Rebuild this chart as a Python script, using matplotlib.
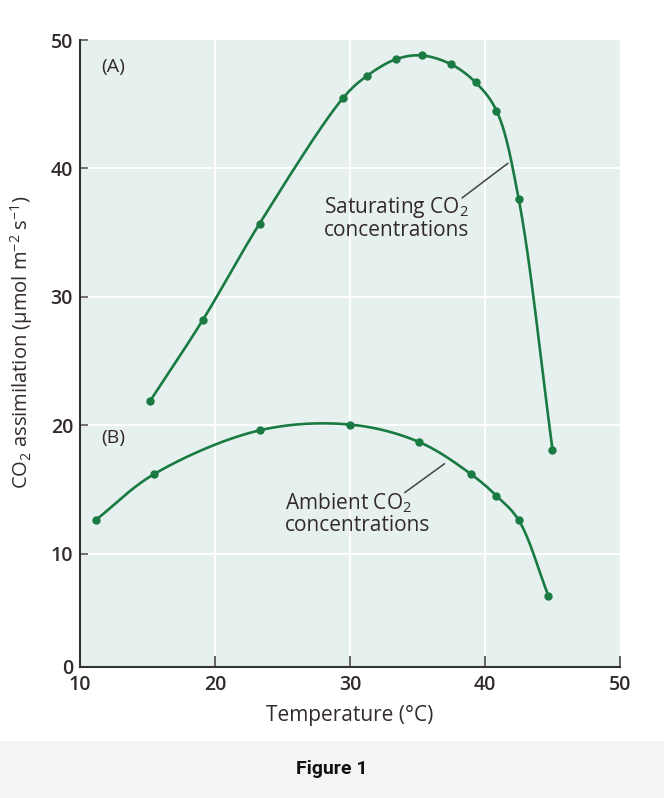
import numpy as np
import matplotlib
matplotlib.use("Agg")
import matplotlib.pyplot as plt
from matplotlib.patches import Rectangle

# ---- data ----
temp_sat = [15.2, 19.1, 23.3, 29.5, 31.25, 33.4, 35.3, 37.5, 39.3, 40.85, 42.5, 45.0]
co2_sat = [21.9, 28.2, 35.7, 45.5, 47.2, 48.5, 48.8, 48.1, 46.7, 44.5, 37.6, 18.1]

temp_amb = [11.15, 15.5, 23.3, 30.0, 35.1, 38.95, 40.85, 42.5, 44.7]
co2_amb = [12.6, 16.2, 19.6, 20.05, 18.7, 16.2, 14.5, 12.6, 6.7]

x_ticks = [10, 20, 30, 40, 50]
y_ticks = [10, 20, 30, 40, 50]
y_bottom = 1.17

plt.rcParams['font.family'] = ['Open Sans', 'DejaVu Sans']
plt.rcParams['mathtext.default'] = 'regular'

GREEN = '#197a42'
TXT = '#332b2b'

fig = plt.figure(figsize=(6.64, 7.98), dpi=100)
fig.patch.set_facecolor('white')
fig.patches.append(Rectangle((0, 0), 1, 57 / 798, transform=fig.transFigure,
                             facecolor='#f4f4f4', edgecolor='none', zorder=0))
fig.text(0.5, 1 - 769 / 798, 'Figure 1', ha='center', va='center',
         fontsize=14, fontweight='bold', family=['Roboto', 'DejaVu Sans'], color='#111111')

left, right = 80 / 664, 620 / 664
top, bottom = 1 - 40 / 798, 1 - 667 / 798
ax = fig.add_axes([left, bottom, right - left, top - bottom])
ax.set_facecolor('#e6f0ef')
ax.set_xlim(10, 50)
ax.set_ylim(y_bottom, 50)

for x in x_ticks[1:-1]:
    ax.axvline(x, color='white', lw=1.4, zorder=1)
for y in y_ticks[:-1]:
    ax.axhline(y, color='white', lw=1.4, zorder=1)


def smooth(xs, ys, n=40):
    # centripetal Catmull-Rom through the data points (for drawing only)
    sx, sy = 13.5, 12.83
    P = np.column_stack([np.asarray(xs) * sx, np.asarray(ys) * sy])
    P = np.vstack([2 * P[0] - P[1], P, 2 * P[-1] - P[-2]])
    out = []
    for i in range(1, len(P) - 2):
        p0, p1, p2, p3 = P[i - 1], P[i], P[i + 1], P[i + 2]
        t0 = 0.0
        t1 = t0 + np.linalg.norm(p1 - p0) ** 0.5
        t2 = t1 + np.linalg.norm(p2 - p1) ** 0.5
        t3 = t2 + np.linalg.norm(p3 - p2) ** 0.5
        t = np.linspace(t1, t2, n)[:, None]
        a1 = (t1 - t) / (t1 - t0) * p0 + (t - t0) / (t1 - t0) * p1
        a2 = (t2 - t) / (t2 - t1) * p1 + (t - t1) / (t2 - t1) * p2
        a3 = (t3 - t) / (t3 - t2) * p2 + (t - t2) / (t3 - t2) * p3
        b1 = (t2 - t) / (t2 - t0) * a1 + (t - t0) / (t2 - t0) * a2
        b2 = (t3 - t) / (t3 - t1) * a2 + (t - t1) / (t3 - t1) * a3
        c = (t2 - t) / (t2 - t1) * b1 + (t - t1) / (t2 - t1) * b2
        out.append(c)
    C = np.vstack(out)
    return C[:, 0] / sx, C[:, 1] / sy


for xs, ys in [(temp_sat, co2_sat), (temp_amb, co2_amb)]:
    cx, cy = smooth(xs, ys)
    ax.plot(cx, cy, color=GREEN, lw=1.9, zorder=3, solid_capstyle='round')
    ax.plot(xs, ys, 'o', color=GREEN, ms=5, zorder=4)

# spines / ticks
for s in ['top', 'right']:
    ax.spines[s].set_visible(False)
for s in ['left', 'bottom']:
    ax.spines[s].set_color('#333333')
    ax.spines[s].set_linewidth(1.5)

ax.set_xticks(x_ticks)
ax.set_xticklabels([str(v) for v in x_ticks])
ax.set_yticks([y_bottom] + y_ticks)
ax.set_yticklabels(['0'] + [str(v) for v in y_ticks])
ax.tick_params(axis='x', direction='in', length=8, width=1.3, color='#555555',
               labelsize=14, labelcolor=TXT, pad=6)
ax.tick_params(axis='y', direction='in', length=6, width=1.3, color='#666666',
               labelsize=14, labelcolor=TXT, pad=5)
for lab in ax.get_xticklabels() + ax.get_yticklabels():
    lab.set_fontweight('semibold')

ax.set_xlabel('Temperature (°C)', fontsize=15, color=TXT)
ax.xaxis.set_label_coords(0.5, (667 - 716) / 627)
ax.set_ylabel('CO$_2$ assimilation (μmol m$^{-2}$ s$^{-1}$)', fontsize=14.5, color=TXT)
ax.yaxis.set_label_coords((22 - 80) / 540, (667 - 342) / 627)
ax.yaxis.label.set_va('center')
ax.xaxis.label.set_va('center')

# panel labels
ax.text(11.6, 47.9, '(A)', fontsize=14, color=TXT, ha='left', va='center')
ax.text(11.6, 19.0, '(B)', fontsize=14, color=TXT, ha='left', va='center')

# annotations
ax.text(28.1, 36.1, 'Saturating CO$_2$\nconcentrations', fontsize=15, color=TXT,
        ha='left', va='center', linespacing=1.0)
ax.annotate('', xy=(41.7, 40.4), xytext=(38.3, 37.7),
            arrowprops=dict(arrowstyle='-', color='#444444', lw=1.1, shrinkA=0, shrinkB=0))
ax.text(25.2, 13.1, 'Ambient CO$_2$\nconcentrations', fontsize=15, color=TXT,
        ha='left', va='center', linespacing=1.0)
ax.annotate('', xy=(37.0, 17.0), xytext=(34.05, 14.75),
            arrowprops=dict(arrowstyle='-', color='#444444', lw=1.1, shrinkA=0, shrinkB=0))

fig.savefig('out.png', dpi=100)
